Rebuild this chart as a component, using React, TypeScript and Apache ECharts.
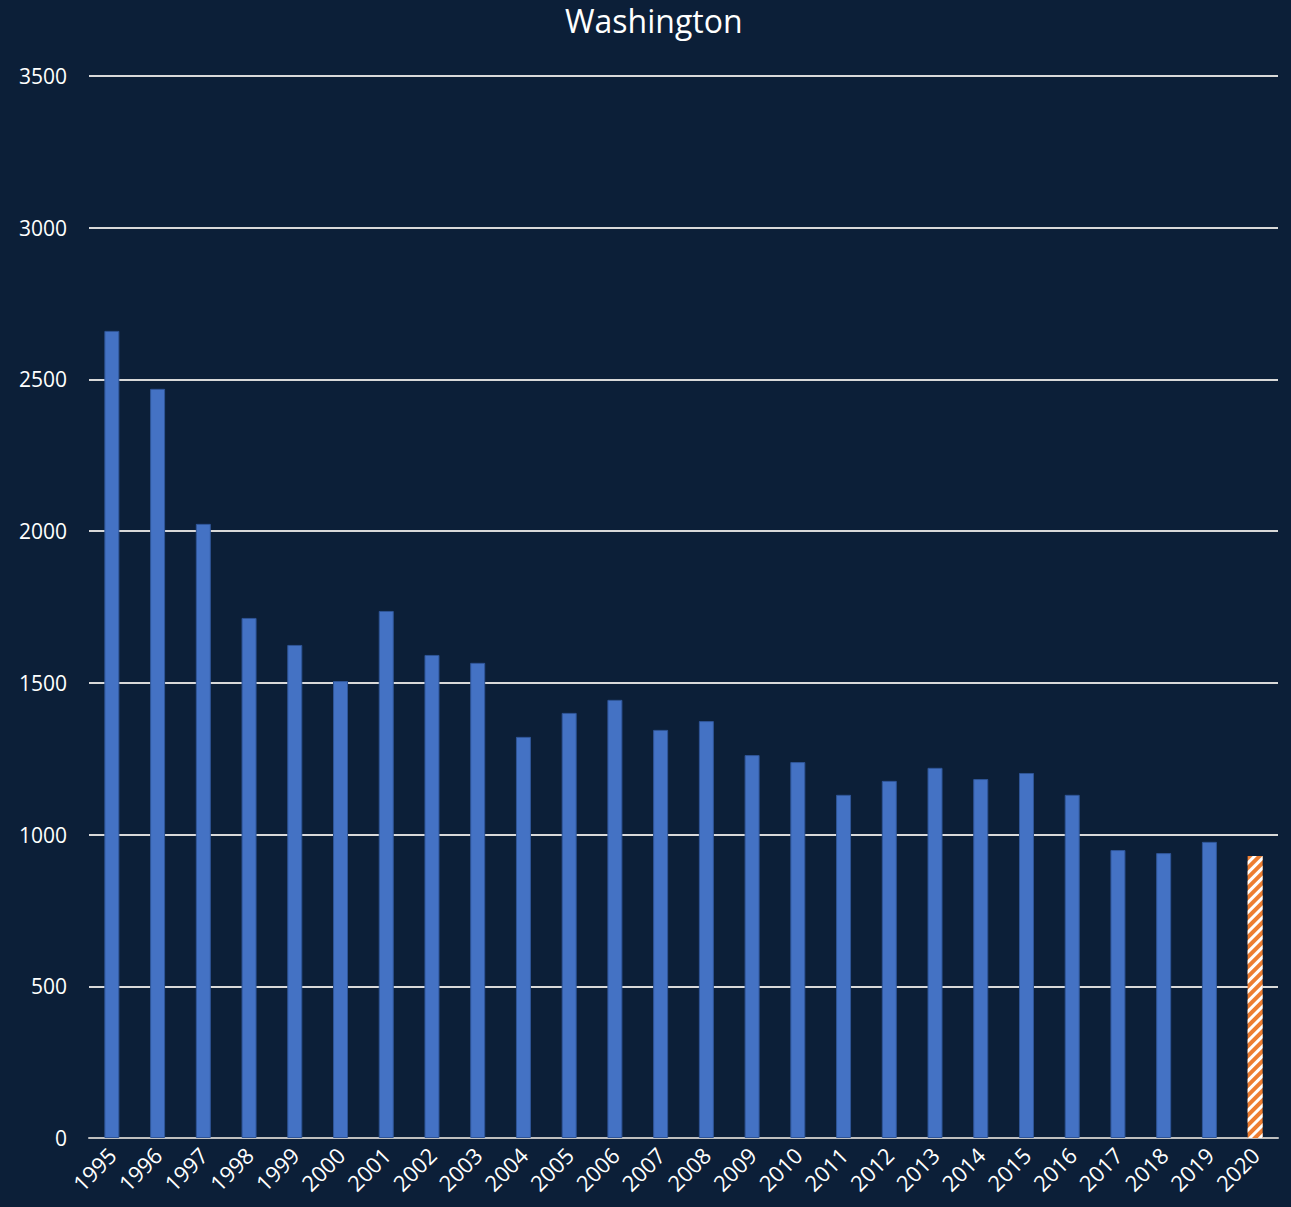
import React, { useEffect, useRef } from "react";
import * as echarts from "echarts";

const years = ["1995","1996","1997","1998","1999","2000","2001","2002","2003","2004","2005","2006","2007","2008","2009","2010","2011","2012","2013","2014","2015","2016","2017","2018","2019","2020"];
const values = [2660,2469,2024,1714,1625,1506,1737,1592,1566,1322,1401,1444,1345,1374,1262,1239,1131,1177,1220,1183,1203,1131,949,939,976,929];
const projectedIndex = 25;

export default function App() {
  const ref = useRef<HTMLDivElement>(null);
  useEffect(() => {
    document.body.style.margin = "0";
    document.body.style.background = "#0c1f38";
    const chart = echarts.init(ref.current!, null, { renderer: "svg" });
    const data = values.map((v, i) =>
      i === projectedIndex
        ? {
            value: v,
            itemStyle: {
              color: "#ED7D31",
              borderWidth: 0,
              decal: {
                symbol: "rect",
                color: "#ffffff",
                dashArrayX: [1, 0],
                dashArrayY: [3, 4],
                rotation: -Math.PI / 4,
                symbolSize: 1,
              },
            },
          }
        : v
    );
    chart.setOption({
      animation: false,
      backgroundColor: "#0c1f38",
      title: {
        text: "Washington",
        left: 560,
        top: -1,
        textStyle: { color: "#ffffff", fontSize: 32, fontWeight: "normal", fontFamily: "Open Sans" },
      },
      grid: { left: 89, right: 13, top: 76, bottom: 69, containLabel: false },
      xAxis: {
        type: "category",
        data: years,
        axisLine: { lineStyle: { color: "#bfbfbf", width: 2 } },
        axisTick: { show: false },
        axisLabel: { color: "#ffffff", fontSize: 22, rotate: 45, margin: 13, fontFamily: "Open Sans", interval: 0 },
      },
      yAxis: {
        type: "value",
        min: 0,
        max: 3500,
        interval: 500,
        axisLine: { show: false },
        axisTick: { show: false },
        splitLine: { lineStyle: { color: "#d9d9d9", width: 2 } },
        axisLabel: {
          color: "#ffffff",
          fontSize: 21,
          margin: 22,
          fontFamily: "Open Sans",
          formatter: (v: number) => String(v),
        },
      },
      series: [
        {
          type: "bar",
          data,
          barWidth: 15,
          itemStyle: { color: "#4472C4", borderColor: "#2f5597", borderWidth: 1 },
        },
      ],
    });
    return () => chart.dispose();
  }, []);
  return <div ref={ref} style={{ width: 1291, height: 1207 }} />;
}
